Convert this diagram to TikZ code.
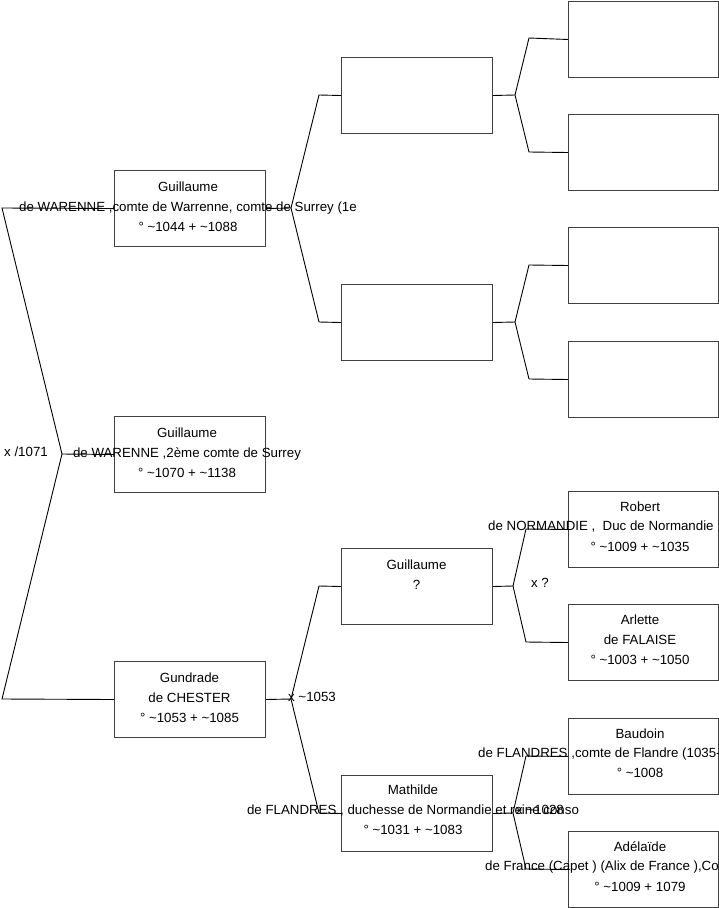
\documentclass[tikz,border=0pt]{standalone}
\usepackage{fontspec}
\setmainfont{Liberation Sans}
\begin{document}
\begin{tikzpicture}[x=1pt,y=-1pt,
  box/.style={draw=black!75, line width=1pt, minimum width=151pt, minimum height=76pt, inner sep=0pt, anchor=north west},
  boxr/.style={box, minimum width=150pt},
  txt/.style={font=\fontsize{13.3}{20}\selectfont, align=center, inner sep=0pt},
  conn/.style={draw=black, line width=0.9pt}]
\useasboundingbox (0,0) rectangle (719,908);
\fill[white] (0,0) rectangle (719,908);
% boxes
\node[box] (g1) at (114,170) {};
\node[box] (g2) at (114,416) {};
\node[box] (gu) at (114,661) {};
\node[box] (c2a) at (341,57) {};
\node[box] (c2b) at (341,284) {};
\node[box] (gq) at (341,548) {};
\node[box] (ma) at (341,775) {};
\node[boxr] (c3a) at (568,1) {};
\node[boxr] (c3b) at (568,114) {};
\node[boxr] (c3c) at (568,227) {};
\node[boxr] (c3d) at (568,341) {};
\node[boxr] (ro) at (568,491) {};
\node[boxr] (ar) at (568,604) {};
\node[boxr] (ba) at (568,718) {};
\node[boxr] (ad) at (568,831) {};
% texts
\node[txt] (g1t) at (188,207) {Guillaume\\de WARENNE ,comte de Warrenne, comte de Surrey (1e\\° \textasciitilde1044 + \textasciitilde1088};
\node[txt] (g2t) at (187,453) {Guillaume\\de WARENNE ,2ème comte de Surrey\\° \textasciitilde1070 + \textasciitilde1138};
\node[txt] (gut) at (189.5,698) {Gundrade\\de CHESTER\\° \textasciitilde1053 + \textasciitilde1085};
\node[txt] (gqt) at (416.5,575) {Guillaume\\?};
\node[txt] (mat) at (413,810) {Mathilde\\de FLANDRES , duchesse de Normandie et reine conso\\° \textasciitilde1031 + \textasciitilde1083};
\node[txt] (rot1) at (640,507) {Robert};
\node[txt, anchor=west] (rot2) at (488,527) {de NORMANDIE ,\ \ Duc de Normandie};
\node[txt] (rot3) at (640,547) {° \textasciitilde1009 + \textasciitilde1035};
\node[txt] (art) at (640,640) {Arlette\\de FALAISE\\° \textasciitilde1003 + \textasciitilde1050};
\node[txt] (bat1) at (640,734) {Baudoin};
\node[txt, anchor=west] (bat2) at (478,754) {de FLANDRES ,comte de Flandre (1035-};
\node[txt] (bat3) at (640,773) {° \textasciitilde1008};
\node[txt] (adt1) at (640,847) {Adélaïde};
\node[txt, anchor=west] (adt2) at (485,867) {de France (Capet ) (Alix de France ),Co};
\node[txt] (adt3) at (640,887) {° \textasciitilde1009 + 1079};
% marriage labels
\node[txt] (m0) at (26,452) {x /1071};
\node[txt] (m1) at (312,697) {x \textasciitilde1053};
\node[txt] (m2) at (540,583) {x ?};
\node[txt] (m3) at (540,810) {x \textasciitilde1028};
% fork coordinates
\coordinate (f0) at (62,454); \coordinate (f0a) at (2,208); \coordinate (f0b) at (2,699);
\coordinate (f1) at (291,208); \coordinate (f1a) at (319,95); \coordinate (f1b) at (319,322);
\coordinate (f2) at (291,699); \coordinate (f2a) at (319,586); \coordinate (f2b) at (319,813);
\coordinate (f3) at (515,95); \coordinate (f3a) at (529,38); \coordinate (f3b) at (529,152);
\coordinate (f4) at (515,322); \coordinate (f4a) at (529,265); \coordinate (f4b) at (529,379);
\coordinate (f5) at (513,586); \coordinate (f5a) at (526,529); \coordinate (f5b) at (526,642);
\coordinate (f6) at (513,813); \coordinate (f6a) at (526,756); \coordinate (f6b) at (526,869);
% connectors
\draw[conn] (g2.west) -- (f0); \draw[conn] (g1.west) -- (f0a) -- (f0) -- (f0b) -- (gu.west);
\draw[conn] (g1.east) -- (f1); \draw[conn] (c2a.west) -- (f1a) -- (f1) -- (f1b) -- (c2b.west);
\draw[conn] (gu.east) -- (f2); \draw[conn] (gq.west) -- (f2a) -- (f2) -- (f2b) -- (ma.west);
\draw[conn] (c2a.east) -- (f3); \draw[conn] (c3a.west) -- (f3a) -- (f3) -- (f3b) -- (c3b.west);
\draw[conn] (c2b.east) -- (f4); \draw[conn] (c3c.west) -- (f4a) -- (f4) -- (f4b) -- (c3d.west);
\draw[conn] (gq.east) -- (f5); \draw[conn] (ro.west) -- (f5a) -- (f5) -- (f5b) -- (ar.west);
\draw[conn] (ma.east) -- (f6); \draw[conn] (ba.west) -- (f6a) -- (f6) -- (f6b) -- (ad.west);
\end{tikzpicture}
\end{document}
